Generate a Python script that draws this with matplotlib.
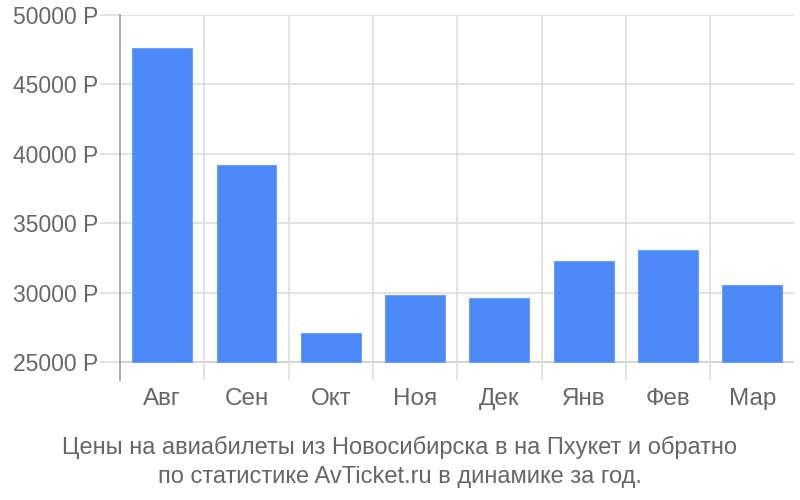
import matplotlib
matplotlib.use("Agg")
import matplotlib.pyplot as plt
import numpy as np

months = ["Авг", "Сен", "Окт", "Ноя", "Дек", "Янв", "Фев", "Мар"]
prices = [47600, 39200, 27100, 29830, 29610, 32280, 33070, 30550]
y_ticks = [25000, 30000, 35000, 40000, 45000, 50000]
y_labels = ["%d Р" % t for t in y_ticks]
caption = ("Цены на авиабилеты из Новосибирска в на Пхукет и обратно\n"
           "по статистике AvTicket.ru в динамике за год.")

plt.rcParams['font.family'] = ['Liberation Sans', 'DejaVu Sans']

fig = plt.figure(figsize=(8, 5), dpi=100)
ax = fig.add_axes([0.15, 0.24, 0.843, 0.73])

base = 25000
x = np.arange(len(months)) + 0.5
ax.bar(x, np.array(prices) - base, bottom=base, width=0.71,
       color="#4b89f8", edgecolor="#6e9ff9", linewidth=0.8, zorder=3)

ax.set_xlim(0, len(months))
ax.set_ylim(23700, 50000)

# horizontal grid
ax.set_yticks(y_ticks)
ax.set_yticklabels(y_labels)
for t in y_ticks:
    ax.axhline(t, color="#cccccc" if t == base else "#dddddd", lw=1.2, zorder=1)
# vertical separators
for b in range(1, len(months)):
    ax.axvline(b, color="#dddddd", lw=1.2, zorder=1)

ax.tick_params(axis="y", length=14.4, width=1.2, color="#dddddd",
               labelsize=16.5, labelcolor="#666666", pad=1)
ax.set_xticks(x)
ax.set_xticklabels(months)
ax.tick_params(axis="x", length=0, labelsize=17.5, labelcolor="#666666", pad=6)

for s in ["top", "right", "bottom"]:
    ax.spines[s].set_visible(False)
ax.spines["left"].set_color("#999999")
ax.spines["left"].set_linewidth(1.2)

fig.text(0.5, 0.077, caption, ha="center", va="center", fontsize=17,
         color="#666666", linespacing=1.42)

fig.savefig("out.png", dpi=100)
